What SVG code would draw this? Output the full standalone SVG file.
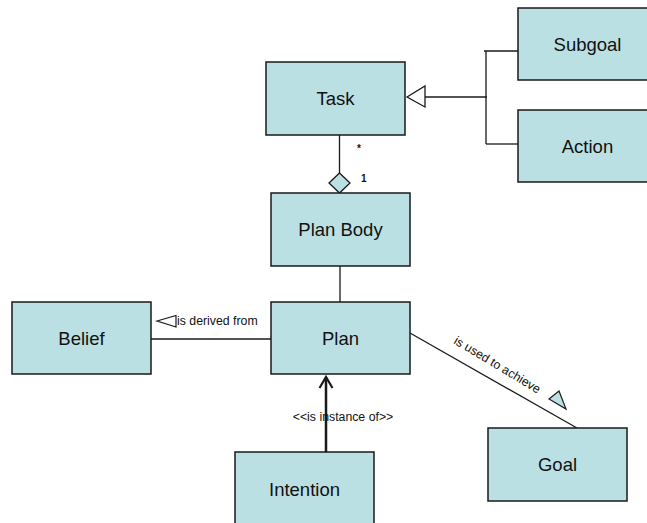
<svg xmlns="http://www.w3.org/2000/svg" width="647" height="523" viewBox="0 0 647 523">
<style>
.node rect{fill:#BBE0E3;stroke:#1a1a1a;stroke-width:1.5}
.node text{font-family:"Liberation Sans",Arial,sans-serif;font-size:18.5px;fill:#111;text-anchor:middle}
.lbl{font-family:"Liberation Sans",Arial,sans-serif;font-size:12.3px;fill:#111}
.mult{font-family:"Liberation Sans",Arial,sans-serif;font-size:10px;font-weight:bold;fill:#111}
.conn line,.conn polyline{stroke:#1a1a1a;stroke-width:1.3;fill:none}
</style>
<rect width="647" height="523" fill="#fff"/>
<g id="connectors" class="conn">
<line x1="339.5" y1="135" x2="339.5" y2="173"/>
<polygon points="339.5,173 350,183 339.5,193 329,183" fill="#BBE0E3" stroke="#1a1a1a" stroke-width="1.3"/>
<line x1="425" y1="97" x2="487" y2="97"/>
<polyline points="484,51 518,51"/>
<line x1="486" y1="51" x2="486" y2="144"/>
<line x1="486" y1="144" x2="518" y2="144"/>
<polygon points="407,97 425,86 425,107" fill="#fff" stroke="#1a1a1a" stroke-width="1.3"/>
<line x1="340" y1="266" x2="340" y2="302"/>
<line x1="151" y1="339" x2="271" y2="339"/>
<polygon points="157,321 176,315.5 176,327" fill="#fff" stroke="#1a1a1a" stroke-width="1.2"/>
<line x1="410" y1="333" x2="577" y2="428"/>
<polygon points="549,399 559,391 566,409" fill="#BBE0E3" stroke="#1a1a1a" stroke-width="1.2"/>
<line x1="326" y1="452" x2="326" y2="377" style="stroke-width:2.5"/>
<polyline points="319.5,388 326,377 332.5,388" style="stroke-width:2.2"/>
</g>
<g id="node-task" class="node"><rect x="266" y="62" width="139" height="73"/><text x="335.5" y="105">Task</text></g>
<g id="node-subgoal" class="node"><rect x="518" y="8" width="139" height="72"/><text x="587.5" y="50.5">Subgoal</text></g>
<g id="node-action" class="node"><rect x="518" y="110" width="139" height="72"/><text x="587.5" y="152.5">Action</text></g>
<g id="node-planbody" class="node"><rect x="271" y="193" width="139" height="73"/><text x="340.5" y="236">Plan Body</text></g>
<g id="node-plan" class="node"><rect x="271" y="302" width="139" height="72"/><text x="340.5" y="344.5">Plan</text></g>
<g id="node-belief" class="node"><rect x="12" y="302" width="139" height="72"/><text x="81.5" y="344.5">Belief</text></g>
<g id="node-goal" class="node"><rect x="488" y="428" width="139" height="73"/><text x="557.5" y="471">Goal</text></g>
<g id="node-intention" class="node"><rect x="235" y="452" width="139" height="80"/><text x="304.5" y="496">Intention</text></g>
<g id="labels">
<text class="mult" x="357" y="152">*</text>
<text class="mult" x="361" y="182">1</text>
<text class="lbl" x="177" y="325">is derived from</text>
<text class="lbl" x="343" y="421" text-anchor="middle">&lt;&lt;is instance of&gt;&gt;</text>
<text class="lbl" transform="translate(453,343) rotate(31)">is used to achieve</text>
</g>
</svg>
